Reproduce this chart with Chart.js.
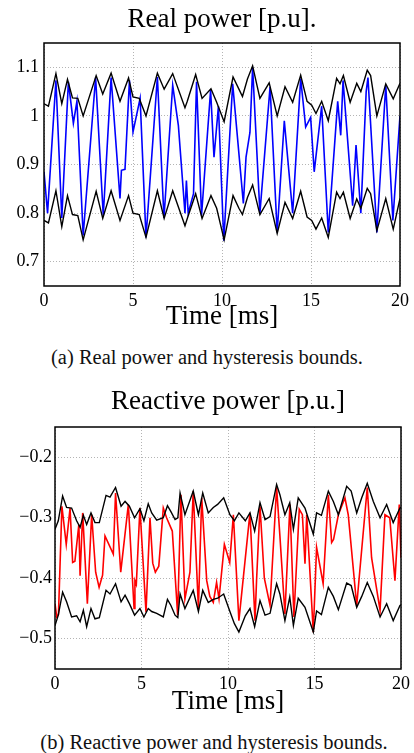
<!DOCTYPE html>
<html>
<head>
<meta charset="utf-8">
<title>Real and reactive power with hysteresis bounds</title>
<script src="https://cdn.jsdelivr.net/npm/chart.js@4/dist/chart.umd.min.js"></script>
<style>
  html, body { margin:0; padding:0; background:#fff; }
  body { width:414px; height:753px; position:relative; overflow:hidden; font-family:"Liberation Serif", "Times New Roman", serif; }
  canvas { position:absolute; left:0; }
  #realChart { top:0; }
  #reactiveChart { top:375px; }
  .caption { position:absolute; left:0; width:414px; text-align:center; font-size:20.5px; line-height:22px; color:#111; }
</style>
</head>
<body>
<canvas id="realChart" width="414" height="335"></canvas>
<canvas id="reactiveChart" width="414" height="345"></canvas>
<div class="caption" style="top:346px;">(a) Real power and hysteresis bounds.</div>
<div class="caption" style="top:731px; left:7px;">(b) Reactive power and hysteresis bounds.</div>

<script>
// ── Data ───────────────────────────────────────────
const timeTicks = [0, 5, 10, 15, 20];

// (a) real power
const realTicks = [0.7, 0.8, 0.9, 1, 1.1];
const realTickLabels = ["0.7", "0.8", "0.9", "1", "1.1"];

const realBoundTime = [0, 0.25, 0.67, 1.0, 1.32, 1.6, 1.9, 2.2, 2.93, 3.3, 3.77, 4.27, 4.75, 5.0, 5.35, 5.73,
  6.37, 6.75, 7.23, 7.92, 8.05, 8.52, 8.88, 9.38, 9.7, 10.12, 10.62, 10.95, 11.15, 11.43, 11.72, 12.13,
  12.65, 13.1, 13.54, 13.97, 14.42, 14.78, 15.04, 15.28, 15.6, 15.97, 16.44, 16.63, 16.82, 17.2, 17.57,
  17.8, 18.16, 18.35, 18.7, 19.2, 19.62, 20];
const realUpper = [1.025, 1.02, 1.087, 1.025, 1.075, 1.037, 1.036, 1.0, 1.083, 1.045, 1.088, 1.03, 1.078, 1.039, 1.036, 1.0,
  1.088, 1.055, 1.087, 1.017, 1.03, 1.085, 1.036, 1.056, 1.028, 0.988, 1.08, 1.055, 1.04, 1.076, 1.103, 1.036,
  1.068, 1.0, 1.06, 1.028, 1.084, 1.03, 1.022, 1.005, 1.03, 0.99, 1.077, 1.066, 1.083, 1.028, 1.067,
  1.05, 1.094, 1.083, 1.0, 1.066, 1.035, 1.067];
const realLower = [0.785, 0.78, 0.846, 0.772, 0.836, 0.797, 0.795, 0.745, 0.845, 0.789, 0.846, 0.785, 0.836, 0.8, 0.797, 0.75,
  0.846, 0.789, 0.846, 0.774, 0.789, 0.84, 0.789, 0.836, 0.81, 0.745, 0.836, 0.81, 0.797, 0.832, 0.858, 0.797,
  0.83, 0.758, 0.822, 0.789, 0.845, 0.792, 0.785, 0.767, 0.79, 0.75, 0.843, 0.83, 0.843, 0.789, 0.829,
  0.81, 0.851, 0.84, 0.764, 0.83, 0.767, 0.83];

const realTime = [0, 0.2, 0.67, 1.0, 1.37, 1.65, 1.85, 2.2, 2.9, 3.33, 3.77, 4.27, 4.35, 4.55, 4.8, 5.0, 5.4, 5.73,
  6.37, 6.74, 7.23, 7.55, 7.92, 8.0, 8.1, 8.4, 8.57, 8.85, 9.36, 9.55, 9.8, 10.1, 10.6, 11.2, 11.35, 11.57,
  11.72, 12.13, 12.7, 13.1, 13.5, 13.97, 14.42, 14.7, 14.98, 15.18, 15.6, 15.97, 16.5, 16.67, 16.8, 17.34,
  17.53, 17.8, 18.1, 18.2, 18.7, 19.2, 19.6, 20];
const realPower = [0.885, 0.8, 1.073, 0.79, 1.07, 0.985, 1.03, 0.754, 1.079, 0.795, 1.079, 0.83, 0.888, 0.89, 1.073, 0.967, 1.036, 0.75,
  1.08, 0.79, 1.063, 0.98, 0.8, 0.867, 0.8, 0.84, 1.07, 0.795, 1.053, 0.915, 1.02, 0.743, 1.066, 0.82, 0.915, 0.966,
  1.1, 0.8, 1.06, 0.76, 0.99, 0.8, 1.077, 0.977, 0.997, 0.885, 1.02, 0.76, 1.03, 0.96, 1.073, 0.815,
  0.94, 0.8, 1.05, 1.079, 0.76, 1.063, 0.785, 1.0];

// (b) reactive power
const reactiveTicks = [-0.5, -0.4, -0.3, -0.2];
const reactiveTickLabels = ["\u22120.5", "\u22120.4", "\u22120.3", "\u22120.2"];

const reactiveBoundTime = [0, 0.19, 0.44, 0.67, 0.96, 1.25, 1.45, 1.64, 1.83, 2.08, 2.31, 2.56, 2.95, 3.18, 3.5,
  3.82, 4.05, 4.3, 4.6, 4.91, 5.14, 5.39, 5.59, 5.88, 6.26, 6.5, 6.7, 6.94, 7.1, 7.23, 7.51, 7.99, 8.29,
  8.54, 8.86, 9.15, 9.4, 9.75, 10.11, 10.37, 10.63, 11.0, 11.27, 11.54, 11.85, 12.14, 12.43, 12.81, 13.0,
  13.29, 13.57, 13.78, 14.06, 14.45, 14.93, 15.12, 15.4, 15.8, 16.09, 16.38, 16.86, 17.12, 17.44, 17.73,
  18.05, 18.4, 18.79, 19.17, 19.55, 19.94, 20];
const reactiveUpper = [-0.319, -0.305, -0.264, -0.283, -0.284, -0.305, -0.316, -0.296, -0.311, -0.292, -0.308, -0.308, -0.263, -0.266, -0.25,
  -0.281, -0.273, -0.281, -0.3, -0.285, -0.305, -0.277, -0.292, -0.304, -0.3, -0.28, -0.29, -0.303, -0.3, -0.259, -0.295, -0.256, -0.295,
  -0.259, -0.292, -0.283, -0.278, -0.267, -0.295, -0.305, -0.292, -0.305, -0.292, -0.322, -0.275, -0.303, -0.298, -0.245, -0.262,
  -0.295, -0.275, -0.319, -0.267, -0.284, -0.327, -0.292, -0.296, -0.256, -0.273, -0.295, -0.248, -0.256, -0.292, -0.267,
  -0.243, -0.273, -0.3, -0.278, -0.308, -0.284, -0.283];
const reactiveLower = [-0.478, -0.461, -0.423, -0.439, -0.464, -0.462, -0.472, -0.453, -0.48, -0.45, -0.467, -0.465, -0.42, -0.426, -0.409,
  -0.439, -0.428, -0.442, -0.461, -0.45, -0.464, -0.45, -0.455, -0.458, -0.464, -0.435, -0.445, -0.461, -0.465, -0.426, -0.45, -0.42, -0.455,
  -0.42, -0.44, -0.435, -0.433, -0.426, -0.455, -0.475, -0.489, -0.462, -0.45, -0.48, -0.437, -0.461, -0.458, -0.409, -0.426,
  -0.47, -0.431, -0.478, -0.433, -0.448, -0.489, -0.454, -0.46, -0.415, -0.43, -0.452, -0.408, -0.412, -0.448, -0.43,
  -0.407, -0.43, -0.464, -0.442, -0.47, -0.445, -0.444];

const reactiveTime = [0, 0.1, 0.2, 0.4, 0.65, 0.87, 1.02, 1.15, 1.38, 1.45, 1.6, 1.87, 2.12, 2.35, 2.55, 2.75, 2.89,
  3.37, 3.5, 3.8, 4.24, 4.57, 4.62, 4.7, 4.91, 5.26, 5.49, 5.65, 5.8, 6.0, 6.26, 6.45, 6.78, 7.09, 7.28, 7.51,
  7.8, 7.99, 8.29, 8.48, 8.77, 8.95, 9.15, 9.34, 9.48, 9.79, 10.1, 10.31, 10.63, 11.27, 11.56, 11.65, 11.85,
  12.1, 12.43, 12.81, 13.0, 13.29, 13.58, 13.81, 14.12, 14.3, 14.45, 14.55, 14.93, 15.12, 15.5, 15.8, 15.99,
  16.1, 16.38, 16.76, 16.95, 17.44, 18.05, 18.3, 18.79, 19.07, 19.35, 19.65, 19.9, 20];
const reactivePower = [-0.442, -0.464, -0.46, -0.281, -0.344, -0.284, -0.374, -0.372, -0.311, -0.396, -0.292, -0.442, -0.295, -0.39, -0.415, -0.395, -0.33,
  -0.36, -0.259, -0.39, -0.278, -0.45, -0.404, -0.41, -0.284, -0.456, -0.3, -0.375, -0.39, -0.38, -0.284, -0.3, -0.322, -0.461, -0.262, -0.434,
  -0.39, -0.256, -0.45, -0.267, -0.404, -0.43, -0.44, -0.407, -0.434, -0.344, -0.374, -0.295, -0.47, -0.292, -0.47, -0.404, -0.281,
  -0.4, -0.445, -0.25, -0.33, -0.459, -0.278, -0.464, -0.286, -0.295, -0.376, -0.295, -0.489, -0.349, -0.409, -0.262, -0.341,
  -0.336, -0.295, -0.267, -0.295, -0.445, -0.25, -0.366, -0.453, -0.295, -0.3, -0.404, -0.278, -0.366];

// ── Helpers ────────────────────────────────────────
const SERIF = '"Liberation Serif", "Times New Roman", serif';

function pairs(xs, ys) {
  return xs.map((x, i) => ({ x:x, y:ys[i] }));
}

// black box around the plot area, like a MATLAB axes
const framePlugin = {
  id: "frame",
  afterDatasetsDraw(chart) {
    const { ctx, chartArea:a } = chart;
    ctx.save();
    ctx.strokeStyle = "#000";
    ctx.lineWidth = 1.5;
    ctx.strokeRect(a.left, a.top, a.right - a.left, a.bottom - a.top);
    ctx.restore();
  }
};

function line(data, color, width) {
  return {
    data: data,
    borderColor: color,
    borderWidth: width,
    pointRadius: 0,
    tension: 0,
    fill: false,
  };
}

function makeChart(id, o) {
  const grid = { color: "#b4b4b4", lineWidth: 1, drawTicks: false };
  const border = { display: false, dash: [1, 2] };
  return new Chart(document.getElementById(id), {
    type: "line",
    data: {
      datasets: [
        line(pairs(o.boundTime, o.upper), "#000", 1.4),
        line(pairs(o.boundTime, o.lower), "#000", 1.4),
        line(pairs(o.time, o.values), o.color, 1.6),
      ],
    },
    options: {
      responsive: false,
      animation: false,
      devicePixelRatio: 1,
      layout: { padding: { left: 0, right: o.padRight, top: 0, bottom: 0 } },
      plugins: {
        legend: { display: false },
        tooltip: { enabled: false },
        title: {
          display: true,
          text: o.title,
          color: "#000",
          fullSize: false,
          font: { family: SERIF, size: 27, weight: "normal" },
          padding: { top: o.titleTop, bottom: o.titleBottom },
        },
      },
      scales: {
        x: {
          type: "linear",
          min: 0,
          max: 20,
          grid: grid,
          border: border,
          afterBuildTicks: s => { s.ticks = timeTicks.map(v => ({ value: v })); },
          afterFit: s => { s.height = o.xHeight; },
          ticks: {
            color: "#000",
            padding: 4,
            maxRotation: 0,
            font: { family: SERIF, size: 18 },
            callback: v => String(v),
          },
          title: {
            display: true,
            text: "Time [ms]",
            color: "#000",
            font: { family: SERIF, size: 27 },
            padding: { top: 0, bottom: 2 },
          },
        },
        y: {
          type: "linear",
          min: o.yMin,
          max: o.yMax,
          grid: grid,
          border: border,
          afterBuildTicks: s => { s.ticks = o.ticks.map(v => ({ value: v })); },
          afterFit: s => { s.width = o.yWidth; },
          ticks: {
            color: "#000",
            padding: o.yPad,
            font: { family: SERIF, size: 18 },
            callback: (v, i) => o.tickLabels[i],
          },
        },
      },
    },
    plugins: [framePlugin],
  });
}

// ── Charts ─────────────────────────────────────────
makeChart("realChart", {
  title: "Real power [p.u].",
  boundTime: realBoundTime, upper: realUpper, lower: realLower,
  time: realTime, values: realPower, color: "#0000ff",
  ticks: realTicks, tickLabels: realTickLabels,
  yMin: 0.65, yMax: 1.15,
  yWidth: 44, yPad: 5, padRight: 14,
  titleTop: 4, titleBottom: 6.6, xHeight: 49,
});

makeChart("reactiveChart", {
  title: "Reactive power [p.u.]",
  boundTime: reactiveBoundTime, upper: reactiveUpper, lower: reactiveLower,
  time: reactiveTime, values: reactivePower, color: "#ff0000",
  ticks: reactiveTicks, tickLabels: reactiveTickLabels,
  yMin: -0.55, yMax: -0.15,
  yWidth: 55, yPad: 3, padRight: 13,
  titleTop: 10.5, titleBottom: 9.1, xHeight: 51,
});
</script>
</body>
</html>
